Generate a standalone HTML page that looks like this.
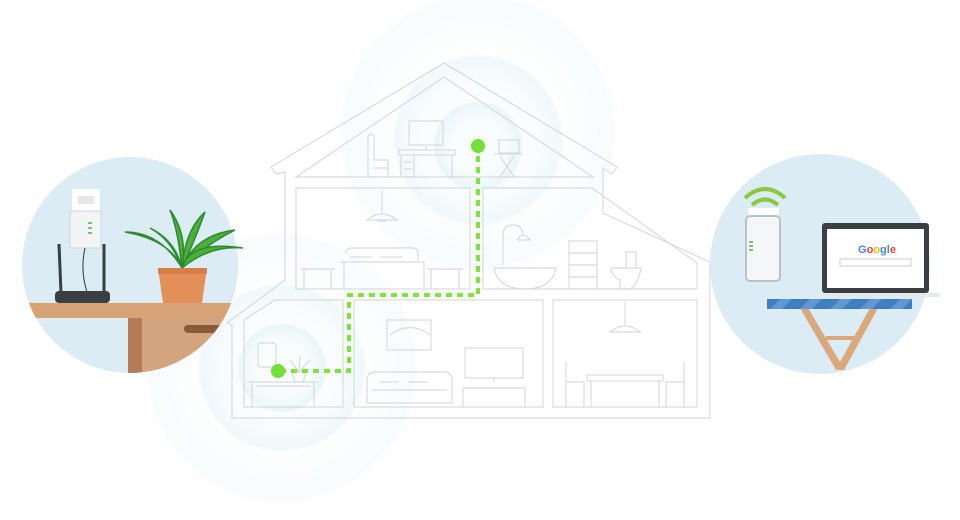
<!DOCTYPE html>
<html><head><meta charset="utf-8"><style>
html,body{margin:0;padding:0;background:#fff;width:960px;height:520px;overflow:hidden}
svg{display:block}
</style></head><body>
<svg width="960" height="520" viewBox="0 0 960 520" xmlns="http://www.w3.org/2000/svg">
<defs>
<radialGradient id="g1" cx="50%" cy="50%" r="50%">
<stop offset="0.6" stop-color="#eef8fb" stop-opacity="0.3"/>
<stop offset="0.95" stop-color="#dcf0f7" stop-opacity="0.7"/>
<stop offset="1" stop-color="#dcf0f7" stop-opacity="0"/>
</radialGradient>
</defs>
<circle cx="478" cy="132" r="140" fill="url(#g1)" opacity="0.35"/>
<circle cx="478" cy="140" r="86" fill="url(#g1)" opacity="0.6"/>
<circle cx="478" cy="146" r="45" fill="url(#g1)" opacity="0.85"/>
<circle cx="282" cy="368" r="137" fill="url(#g1)" opacity="0.35"/>
<circle cx="282" cy="368" r="85" fill="url(#g1)" opacity="0.6"/>
<circle cx="282" cy="368" r="45" fill="url(#g1)" opacity="0.85"/>

<g fill="none" stroke="#dadada" stroke-width="1.2">
<path d="M271,167 L444,63 L617,167 L612,174 L603,168 L603,213 L710,262 L710,418 L232,418 L232,325 L227,323 L285,280 L285,172 L276,174 Z"/>
<path d="M296,177 L444,77 L593,177 Z"/>
<rect x="296" y="188" width="174" height="101"/>
<path d="M483,188 L592,188 L697,263 L697,289 L483,289 Z"/>
<path d="M244,320 L275,300 L343,300 L343,407 L244,407 Z"/>
<rect x="354" y="300" width="189" height="107"/>
<rect x="553" y="300" width="144" height="107"/>
<path d="M368,177 V136 Q371,132 374,136 V160 H388 V177 M374,168 H388"/>
<rect x="409" y="121" width="34" height="24"/><path d="M426,145 V150"/>
<rect x="399" y="150" width="56" height="5"/><path d="M401,155 V177 H414 V155 M452,155 V177 M404,162 H412 M404,169 H412"/>
<rect x="499" y="140" width="20" height="13"/><path d="M494,154 H522 M500,156 L514,177 M514,156 L500,177"/>
<path d="M382,190 V213 M367,220 Q382,208 397,220 Z M378,221 H386"/>
<path d="M346,253 Q346,248 352,248 H412 Q418,248 418,253 V262 M340,262 H424 V289 M344,262 V289 M350,257 H372 M380,257 H402"/>
<path d="M300,269 H335 M304,269 V289 M331,269 V289 M427,269 H463 M431,269 V289 M459,269 V289"/>
<path d="M503,265 V235 Q503,225 513,225 Q523,225 523,235 M517,240 H530 Q523,230 517,240 M494,268 H556 Q552,289 525,289 Q498,289 494,268"/>
<rect x="569" y="241" width="28" height="12"/><rect x="569" y="253" width="28" height="36"/><path d="M569,265 H597 M569,277 H597"/>
<path d="M611,268 H641 Q638,285 630,289 H620 V280 Q611,276 611,268 M626,268 V252 H636 V268"/>
<rect x="387" y="320" width="44" height="30"/><path d="M390,335 Q410,320 430,335"/>
<path d="M367,380 Q367,372 375,372 H444 Q452,372 452,380 V403 H367 Z M372,390 H447 M380,382 H398 M408,382 H428"/>
<rect x="465" y="348" width="58" height="30"/><path d="M494,378 V382"/>
<path d="M463,388 H525 V407 M463,388 V407"/>
<rect x="587" y="375" width="76" height="6"/><path d="M591,381 V407 M659,381 V407"/>
<path d="M566,407 V362 M566,382 H584 V407 M684,407 V362 M684,382 H666 V407"/>
<path d="M625,302 V325 M610,332 Q625,320 640,332 Z"/>
<rect x="258" y="343" width="18" height="24" rx="3"/>
<path d="M248,382 H318 M252,382 V407 M314,382 V407 M256,386 H310"/>
<path d="M292,372 H306 L303,382 H295 Z M299,372 L290,360 M299,372 L300,356 M299,372 L310,360"/>
</g>
<path d="M478,156 V295 H349 V371 H282" fill="none" stroke="#7ee33c" stroke-width="4" stroke-dasharray="6,5"/>
<circle cx="478" cy="146" r="7" fill="#72e034"/>
<circle cx="278" cy="371" r="7" fill="#72e034"/>

<circle cx="130" cy="265" r="108" fill="#dcecf4"/>
<clipPath id="cl"><circle cx="130" cy="265" r="108"/></clipPath>
<g clip-path="url(#cl)">
<rect x="20" y="303" width="230" height="15" fill="#d7a276"/>
<rect x="128" y="318" width="14" height="60" fill="#b37b57"/>
<rect x="142" y="318" width="100" height="60" fill="#d4a47e"/>
<rect x="184" y="325" width="40" height="8" rx="4" fill="#8b5a3a"/>
</g>
<rect x="72" y="189" width="28" height="22" fill="#fff"/>
<rect x="78" y="196" width="16" height="8" rx="2" fill="#e6e6e6"/>
<rect x="70" y="211" width="31" height="37" rx="2" fill="#f2f4f5" stroke="#cfd6d9"/>
<path d="M88,223 h4 M88,228 h4 M88,233 h4" stroke="#4caf50" stroke-width="1.5"/>
<path d="M85,248 Q80,270 87,292" fill="none" stroke="#333" stroke-width="1"/>
<path d="M61,293 L59,244 M104,293 L104,244" stroke="#3a3f44" stroke-width="3"/>
<rect x="55" y="291" width="55" height="12" rx="4" fill="#3a3f44"/>
<g stroke="#2f8a2f" stroke-width="1.5" fill="#4caf3c">
<path d="M182,268 Q170,240 125,232 Q160,232 182,268" />
<path d="M182,268 Q185,230 205,212 Q195,240 182,268"/>
<path d="M182,268 Q195,235 235,230 Q205,245 182,268"/>
<path d="M182,268 Q175,240 150,228 Q172,240 182,268"/>
<path d="M182,268 Q190,240 243,248 Q210,245 182,268"/>
<path d="M182,268 Q178,230 170,210 Q188,235 182,268"/>
</g>
<path d="M158,268 H207 L202,303 H163 Z" fill="#e38f5a"/>
<rect x="158" y="268" width="49" height="6" fill="#d77e48"/>

<circle cx="820" cy="264" r="110" fill="#dcecf4"/>
<g fill="none" stroke="#8dc63f" stroke-width="4">
<path d="M745,198 Q765,180 785,198"/><path d="M752,205 Q765,194 778,205"/>
</g>
<rect x="748" y="208" width="31" height="8" fill="#fff"/>
<rect x="746" y="216" width="34" height="65" rx="4" fill="#f4f6f7" stroke="#b8c3c8" stroke-width="2"/>
<path d="M749,242 h4 M749,246 h4 M749,250 h4" stroke="#4caf50" stroke-width="1.5"/>
<rect x="822" y="223" width="107" height="70" rx="3" fill="#3a3f44"/>
<rect x="827" y="229" width="97" height="59" fill="#fff"/>
<text x="858" y="253" font-family="Liberation Sans, sans-serif" font-size="11" font-weight="bold"><tspan fill="#4285f4">G</tspan><tspan fill="#ea4335">o</tspan><tspan fill="#fbbc05">o</tspan><tspan fill="#4285f4">g</tspan><tspan fill="#34a853">l</tspan><tspan fill="#ea4335">e</tspan></text>
<rect x="840" y="259" width="71" height="7" fill="#fff" stroke="#ccc"/>
<rect x="810" y="293" width="130" height="4" fill="#e6e9eb"/>
<path d="M800,308 L836,370 L844,370 L878,308 L870,308 L840,362 L808,308 Z" fill="#d9a97c"/>
<rect x="826" y="336" width="28" height="4" fill="#d9a97c"/>
<clipPath id="tb"><rect x="767" y="299" width="145" height="10"/></clipPath>
<rect x="767" y="299" width="145" height="10" fill="#3f7fc0"/>
<g clip-path="url(#tb)" fill="#5f98d3">
<path d="M770,309 l10,-10 h12 l-10,10 Z M800,309 l10,-10 h12 l-10,10 Z M830,309 l10,-10 h12 l-10,10 Z M860,309 l10,-10 h12 l-10,10 Z M890,309 l10,-10 h12 l-10,10 Z"/>
</g>
</svg>
</body></html>
